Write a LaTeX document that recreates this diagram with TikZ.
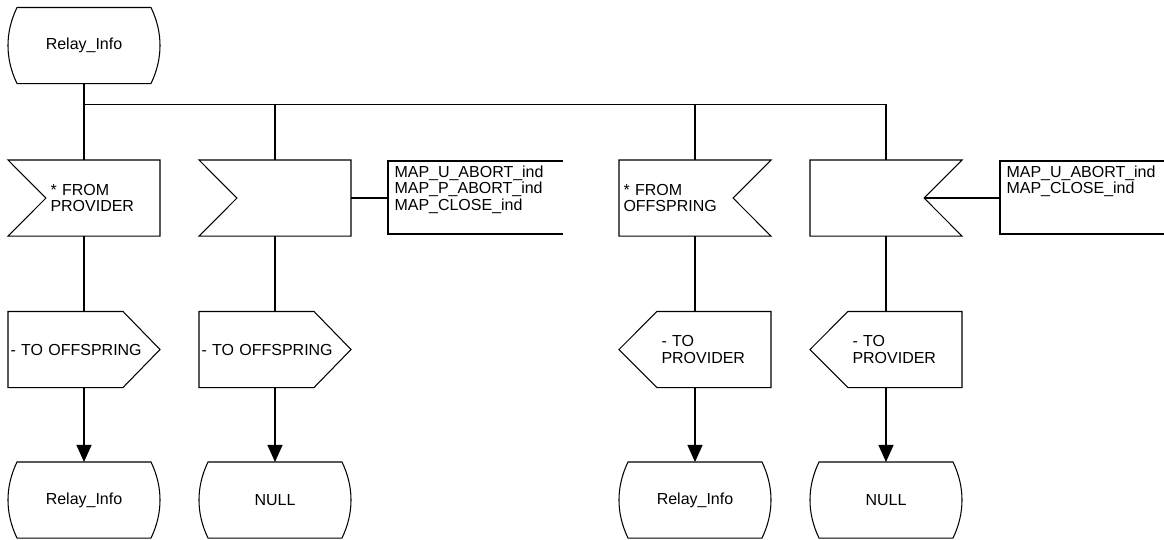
\documentclass[tikz,border=0pt]{standalone}
\usepackage{fontspec}
\setmainfont{Liberation Sans}
\usetikzlibrary{arrows.meta, calc}
\tikzset{
  every node/.style = {font=\fontsize{9.1pt}{9.5pt}\selectfont},
  sdlbase/.style  = {minimum width=3.02cm, minimum height=1.5cm, inner sep=0pt, align=left},
  sdlstate/.style = {sdlbase, align=center},
  sdlinl/.style   = {sdlbase, text width=1.34cm},
  sdlinr/.style   = {sdlbase, text width=2.86cm},
  sdloutr/.style  = {sdlbase, text width=2.94cm},
  sdloutl/.style  = {sdlbase, text width=1.34cm},
  sdlnote/.style  = {anchor=north west, align=left, inner xsep=0.12cm, inner ysep=0.08cm},
  sdlflow/.style  = {-{Triangle[length=0.34cm,width=0.3cm]}},
}

\begin{document}
\begin{tikzpicture}[x=0.02cm, y=-0.02cm, line width=0.6pt]
\useasboundingbox (0,0) rectangle (1164,539);

% states
\node[sdlstate] (sTop) at (84,45.5) {Relay\_Info};
\node[sdlstate] (s1) at (84,500)  {Relay\_Info};
\node[sdlstate] (s2) at (275,500) {NULL};
\node[sdlstate] (s3) at (695,500) {Relay\_Info};
\node[sdlstate] (s4) at (886,500) {NULL};

% inputs
\node[sdlinl] (in1) at (84,198)  {* FROM\\PROVIDER};
\node[sdlinl] (in2) at (275,198) {};
\node[sdlinr] (in3) at (695,198) {* FROM\\OFFSPRING};
\node[sdlinr] (in4) at (886,198) {};

% outputs
\node[sdloutr] (out1) at (84,349.5)  {- TO OFFSPRING};
\node[sdloutr] (out2) at (275,349.5) {- TO OFFSPRING};
\node[sdloutl] (out3) at (695,349.5) {- TO\\PROVIDER};
\node[sdloutl] (out4) at (886,349.5) {- TO\\PROVIDER};

% comments
\node[sdlnote] (c1) at (388,161) {MAP\_U\_ABORT\_ind\\MAP\_P\_ABORT\_ind\\MAP\_CLOSE\_ind};
\node[sdlnote] (c2) at (1000,161) {MAP\_U\_ABORT\_ind\\MAP\_CLOSE\_ind};

% outlines
\foreach \n in {sTop,s1,s2,s3,s4}
  \draw ($(\n.north west)+(9,0)$) -- ($(\n.north east)+(-9,0)$)
    .. controls ($(\n.north east)+(3,25)$) and ($(\n.south east)+(3,-25)$) .. ($(\n.south east)+(-9,0)$)
    -- ($(\n.south west)+(9,0)$)
    .. controls ($(\n.south west)+(-3,-25)$) and ($(\n.north west)+(-3,25)$) .. cycle;
\foreach \n in {in1,in2}
  \draw (\n.north west) -- (\n.north east) -- (\n.south east) -- (\n.south west)
    -- ($(\n.west)+(38,0)$) -- cycle;
\foreach \n in {in3,in4}
  \draw (\n.north west) -- (\n.north east) -- ($(\n.east)+(-38,0)$) -- (\n.south east)
    -- (\n.south west) -- cycle;
\foreach \n in {out1,out2}
  \draw (\n.north west) -- ($(\n.north east)+(-37,0)$) -- (\n.east)
    -- ($(\n.south east)+(-37,0)$) -- (\n.south west) -- cycle;
\foreach \n in {out3,out4}
  \draw (\n.west) -- ($(\n.north west)+(38,0)$) -- (\n.north east) -- (\n.south east)
    -- ($(\n.south west)+(38,0)$) -- cycle;
\draw ($(c1.north west)+(175,0)$) -- (c1.north west) -- ++(0,73) -- ++(175,0);
\draw ($(c2.north west)+(164,0)$) -- (c2.north west) -- ++(0,73) -- ++(164,0);

% connectors
\draw (sTop.south) -- ++(0,21) coordinate (bus) -| (in4.north);
\draw (bus) -- (in1.north);
\foreach \n in {in2,in3}
  \draw (\n.north |- bus) -- (\n.north);
\draw (in2.east) -- (in2.east -| c1.west);
\draw ($(in4.east)+(-38,0)$) -- (in4.east -| c2.west);
\foreach \i in {1,...,4} {
  \draw (in\i.south) -- (out\i.north);
  \draw[sdlflow] (out\i.south) -- (s\i.north);
}
\end{tikzpicture}
\end{document}
